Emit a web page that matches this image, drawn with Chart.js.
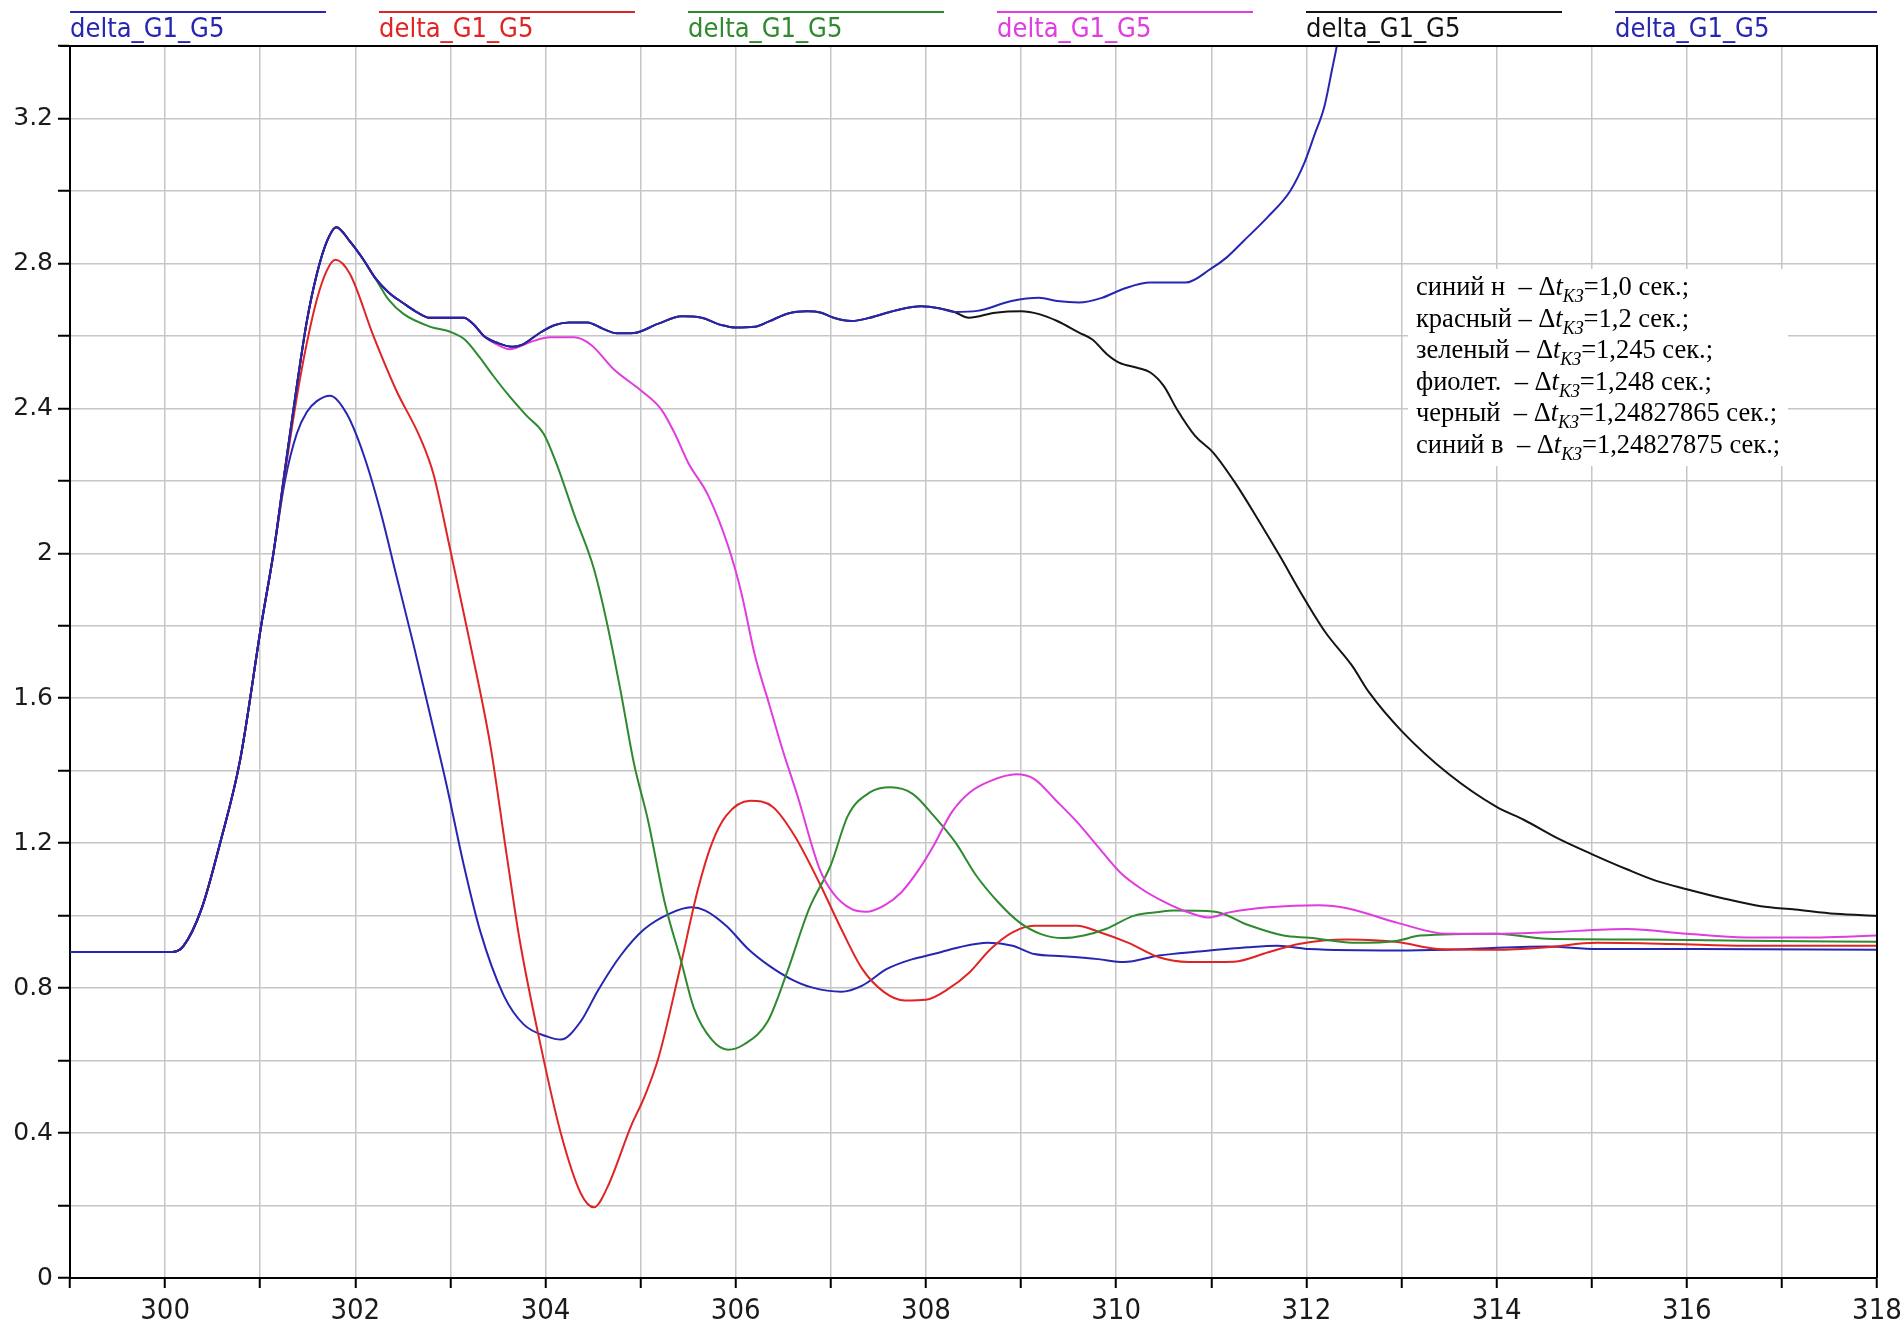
<!DOCTYPE html>
<html>
<head>
<meta charset="utf-8">
<script src="https://cdn.jsdelivr.net/npm/chart.js@4.4.1/dist/chart.umd.min.js"></script>
<style>
  html, body { margin: 0; padding: 0; background: #ffffff; }
  canvas { display: block; }
</style>
</head>
<body>
<canvas id="chart" width="1903" height="1329"></canvas>
<script>
// Rotor angle difference delta_G1_G5 after a short circuit, for six fault-clearing times.

const seriesLabels = ['delta_G1_G5', 'delta_G1_G5', 'delta_G1_G5', 'delta_G1_G5', 'delta_G1_G5', 'delta_G1_G5'];
const seriesColors = ['#2626b2', '#e02424', '#2e8a2e', '#e03ce0', '#141414', '#2626b2'];

// Common part of every trace: steady state and the rise during the fault.
const riseT = [299.0, 300.0, 300.08, 300.19, 300.385, 300.578, 300.789, 301.016, 301.139];
const riseV = [0.90, 0.90, 0.90, 0.915, 1.02, 1.20, 1.43, 1.81, 2.00];

// First swing shared by the green, violet, black and upper blue traces.
const crestT = [301.26, 301.384, 301.49, 301.595, 301.70, 301.80, 301.945, 302.086, 302.208];
const crestV = [2.23, 2.46, 2.64, 2.77, 2.86, 2.90, 2.86, 2.81, 2.76];

// Plateau shared by the black and upper blue traces.
const plateauT = [302.35, 302.506, 302.65, 302.787, 302.962, 303.14, 303.25, 303.35, 303.5, 303.65, 303.75, 303.95,
  304.1, 304.25, 304.44, 304.6, 304.75, 304.93, 305.18, 305.43, 305.64, 305.85, 306.0, 306.2, 306.35, 306.55,
  306.75, 306.9, 307.03, 307.22, 307.41, 307.69, 307.95, 308.16, 308.3];
const plateauV = [2.72, 2.69, 2.665, 2.65, 2.65, 2.65, 2.63, 2.60, 2.58, 2.57, 2.575, 2.61,
  2.63, 2.637, 2.637, 2.62, 2.607, 2.608, 2.633, 2.654, 2.65, 2.63, 2.623, 2.625, 2.64, 2.662,
  2.668, 2.664, 2.65, 2.641, 2.65, 2.671, 2.682, 2.675, 2.666];

// Lower blue: dt = 1,0 s
const blueLowT = [301.26, 301.384, 301.49, 301.595, 301.735, 301.91, 302.09, 302.26, 302.43, 302.61, 302.79, 302.96,
  303.14, 303.31, 303.56, 303.77, 304.02, 304.16, 304.37, 304.55, 304.79, 305.04, 305.3, 305.53, 305.68, 305.9,
  306.13, 306.35, 306.58, 306.8, 307.11, 307.33, 307.59, 307.86, 308.08, 308.35, 308.65, 308.91, 309.14, 309.44,
  309.81, 310.08, 310.45, 310.86, 311.39, 311.7, 312.03, 312.96, 313.48, 314.53, 315.05, 316.1, 318.0];
const blueLowV = [2.20, 2.33, 2.39, 2.42, 2.435, 2.385, 2.27, 2.12, 1.94, 1.75, 1.55, 1.36,
  1.14, 0.96, 0.78, 0.70, 0.666, 0.658, 0.708, 0.793, 0.89, 0.963, 1.005, 1.023, 1.014, 0.972,
  0.908, 0.862, 0.825, 0.802, 0.79, 0.807, 0.853, 0.88, 0.894, 0.913, 0.925, 0.917, 0.894, 0.888,
  0.88, 0.872, 0.89, 0.901, 0.913, 0.917, 0.908, 0.904, 0.906, 0.915, 0.908, 0.908, 0.906];

// Red: dt = 1,2 s
const redT = [301.26, 301.384, 301.49, 301.595, 301.70, 301.79, 301.945, 302.19, 302.43, 302.68, 302.82, 302.99,
  303.2, 303.42, 303.59, 303.73, 303.95, 304.16, 304.37, 304.51, 304.65, 304.9, 305.04, 305.19, 305.41, 305.6,
  305.75, 305.9, 306.15, 306.39, 306.62, 306.88, 307.11, 307.33, 307.56, 307.78, 308.0, 308.23, 308.46, 308.68,
  308.91, 309.14, 309.59, 309.82, 310.13, 310.45, 310.76, 311.24, 311.6, 311.92, 312.44, 312.96, 313.38, 314.0,
  314.53, 315.05, 315.84, 316.62, 318.0];
const redV = [2.22, 2.43, 2.58, 2.70, 2.78, 2.81, 2.77, 2.60, 2.45, 2.32, 2.22, 2.02,
  1.76, 1.47, 1.17, 0.93, 0.64, 0.40, 0.234, 0.195, 0.25, 0.42, 0.50, 0.61, 0.85, 1.07,
  1.20, 1.276, 1.317, 1.30, 1.22, 1.09, 0.963, 0.853, 0.789, 0.766, 0.768, 0.797, 0.844, 0.908,
  0.954, 0.972, 0.972, 0.955, 0.925, 0.885, 0.872, 0.873, 0.899, 0.922, 0.934, 0.927, 0.908, 0.906,
  0.913, 0.925, 0.922, 0.917, 0.917];

// Green: dt = 1,245 s
const greenT = [302.35, 302.51, 302.79, 302.99, 303.15, 303.31, 303.45, 303.6, 303.8, 303.98, 304.12, 304.3,
  304.51, 304.65, 304.79, 304.93, 305.08, 305.25, 305.43, 305.56, 305.75, 305.92, 306.09, 306.34, 306.54, 306.77,
  307.0, 307.18, 307.41, 307.63, 307.86, 308.08, 308.31, 308.53, 308.76, 308.98, 309.21, 309.44, 309.66, 309.89,
  310.19, 310.45, 310.6, 311.04, 311.39, 311.76, 312.03, 312.54, 312.96, 313.2, 314.0, 314.53, 315.58, 316.62, 318.0];
const greenV = [2.70, 2.66, 2.625, 2.612, 2.59, 2.54, 2.49, 2.44, 2.38, 2.33, 2.244, 2.108,
  1.956, 1.803, 1.619, 1.42, 1.26, 1.04, 0.87, 0.745, 0.657, 0.63, 0.645, 0.71, 0.844, 1.018,
  1.14, 1.276, 1.34, 1.354, 1.336, 1.276, 1.202, 1.11, 1.037, 0.982, 0.949, 0.938, 0.945, 0.963,
  1.0, 1.01, 1.014, 1.011, 0.974, 0.945, 0.939, 0.925, 0.931, 0.945, 0.95, 0.936, 0.934, 0.931, 0.928];

// Violet: dt = 1,248 s
const violetT = [302.35, 302.506, 302.65, 302.787, 302.962, 303.14, 303.25, 303.35, 303.5, 303.62, 303.84,
  304.05, 304.3, 304.48, 304.72, 305.01, 305.22, 305.36, 305.5, 305.71, 305.92, 306.06, 306.2, 306.35, 306.49,
  306.65, 306.88, 307.03, 307.22, 307.37, 307.56, 307.74, 307.93, 308.08, 308.27, 308.46, 308.68, 308.95, 309.14,
  309.36, 309.59, 309.81, 310.04, 310.26, 310.49, 310.7, 310.97, 311.19, 311.6, 312.13, 312.44, 312.96, 313.48,
  314.01, 314.53, 315.37, 316.0, 316.62, 317.4, 318.0];
const violetV = [2.72, 2.69, 2.665, 2.65, 2.65, 2.65, 2.63, 2.60, 2.575, 2.563, 2.583,
  2.596, 2.596, 2.575, 2.507, 2.448, 2.396, 2.33, 2.25, 2.16, 2.02, 1.89, 1.72, 1.585, 1.46,
  1.33, 1.13, 1.06, 1.018, 1.011, 1.028, 1.064, 1.129, 1.193, 1.285, 1.34, 1.372, 1.39, 1.377,
  1.32, 1.258, 1.19, 1.12, 1.075, 1.04, 1.015, 0.995, 1.009, 1.023, 1.029, 1.02, 0.98, 0.95,
  0.95, 0.954, 0.963, 0.95, 0.94, 0.94, 0.945];

// Black: dt = 1,24827865 s (tail after leaving the plateau)
const blackT = [308.45, 308.73, 309.0, 309.19, 309.38, 309.61, 309.75, 309.9, 310.03, 310.22, 310.36, 310.5,
  310.64, 310.83, 311.02, 311.25, 311.49, 311.72, 311.96, 312.2, 312.48, 312.66, 313.0, 313.5, 314.0, 314.29,
  314.66, 315.0, 315.37, 315.68, 316.0, 316.41, 316.78, 317.14, 317.56, 318.0];
const blackV = [2.65, 2.664, 2.668, 2.66, 2.641, 2.609, 2.59, 2.55, 2.526, 2.512, 2.499, 2.462,
  2.397, 2.324, 2.278, 2.195, 2.094, 1.993, 1.883, 1.782, 1.69, 1.616, 1.51, 1.39, 1.30, 1.264,
  1.211, 1.17, 1.128, 1.096, 1.073, 1.046, 1.026, 1.017, 1.005, 1.0];

// Upper blue: dt = 1,24827875 s (runaway after leaving the plateau)
const blueHighT = [308.54, 308.9, 309.19, 309.38, 309.61, 309.85, 310.08, 310.36, 310.73, 310.99, 311.16, 311.34,
  311.59, 311.83, 311.98, 312.08, 312.19, 312.27, 312.32, 312.4];
const blueHighV = [2.669, 2.696, 2.705, 2.696, 2.692, 2.705, 2.73, 2.747, 2.747, 2.784, 2.816, 2.862,
  2.927, 3.0, 3.078, 3.151, 3.234, 3.335, 3.40, 3.52];

// Axis tick labels
const xTickLabels = ['300', '302', '304', '306', '308', '310', '312', '314', '316', '318'];
const yTickLabels = ['0', '0.4', '0.8', '1.2', '1.6', '2', '2.4', '2.8', '3.2'];

// Text of the note box
const noteNames = ['синий н  ', 'красный ', 'зеленый ', 'фиолет.  ', 'черный  ', 'синий в  '];
const noteValues = ['1,0', '1,2', '1,245', '1,248', '1,24827865', '1,24827875'];

function toPoints(ts, vs) {
  return ts.map((t, i) => ({ x: t, y: vs[i] }));
}
function joined(parts) {
  const t = [], v = [];
  parts.forEach(([a, b]) => { t.push(...a); v.push(...b); });
  return toPoints(t, v);
}

const seriesData = [
  joined([[riseT, riseV], [blueLowT, blueLowV]]),
  joined([[riseT, riseV], [redT, redV]]),
  joined([[riseT, riseV], [crestT, crestV], [greenT, greenV]]),
  joined([[riseT, riseV], [crestT, crestV], [violetT, violetV]]),
  joined([[riseT, riseV], [crestT, crestV], [plateauT, plateauV], [blackT, blackV]]),
  joined([[riseT, riseV], [crestT, crestV], [plateauT, plateauV], [blueHighT, blueHighV]])
];

const datasets = seriesData.map((pts, i) => ({
  label: seriesLabels[i],
  data: pts,
  borderColor: seriesColors[i],
  backgroundColor: seriesColors[i],
  borderWidth: 2,
  pointRadius: 0,
  fill: false,
  cubicInterpolationMode: 'monotone',
  order: seriesData.length - 1 - i,
  clip: 0
}));

const TICK_FONT_X = '"Liberation Sans Narrow", "DejaVu Sans Condensed", "Liberation Sans", Arial, sans-serif';
const TICK_FONT_Y = '"DejaVu Sans", "Liberation Sans", sans-serif';
const NOTE_FONT = '"Liberation Serif", "Times New Roman", serif';

// Legend across the top: a coloured line with the series name beneath it.
const topLegend = {
  id: 'topLegend',
  afterDraw(chart) {
    const { ctx, chartArea } = chart;
    const ds = chart.data.datasets;
    const lineLen = 256;
    const step = 309;
    ctx.save();
    ds.forEach((d, i) => {
      const x = chartArea.left + i * step;
      const len = Math.min(lineLen, chartArea.right - x);
      ctx.strokeStyle = d.borderColor;
      ctx.lineWidth = 2;
      ctx.beginPath();
      ctx.moveTo(x, 12);
      ctx.lineTo(x + (i === ds.length - 1 ? chartArea.right - x : len), 12);
      ctx.stroke();
      ctx.fillStyle = d.borderColor;
      ctx.font = '27px ' + TICK_FONT_X;
      ctx.textAlign = 'left';
      ctx.textBaseline = 'alphabetic';
      ctx.fillText(d.label, x, 37);
    });
    ctx.restore();
  }
};

// Top and right edges of the plot frame.
const frame = {
  id: 'frame',
  afterDatasetsDraw(chart) {
    const { ctx, chartArea } = chart;
    ctx.save();
    ctx.strokeStyle = '#000';
    ctx.lineWidth = 2;
    ctx.beginPath();
    ctx.moveTo(chartArea.left - 10, chartArea.top);
    ctx.lineTo(chartArea.right, chartArea.top);
    ctx.lineTo(chartArea.right, chartArea.bottom);
    ctx.stroke();
    ctx.restore();
  }
};

// Note box listing the fault-clearing time of each trace.
const noteBox = {
  id: 'noteBox',
  afterDraw(chart) {
    const { ctx, chartArea } = chart;
    const left = chartArea.right - 461;
    const top = chartArea.top + 225;
    const lineH = 31.5;
    ctx.save();
    ctx.fillStyle = '#fff';
    ctx.fillRect(left - 8, top - 2, 380, lineH * noteNames.length + 8);
    ctx.fillStyle = '#000';
    ctx.textBaseline = 'alphabetic';
    ctx.textAlign = 'left';
    noteNames.forEach((name, i) => {
      const y = top + 24 + i * lineH;
      let x = left;
      ctx.font = '26.5px ' + NOTE_FONT;
      const head = name + '\u2013 \u0394';
      ctx.fillText(head, x, y);
      x += ctx.measureText(head).width;
      ctx.font = 'italic 26.5px ' + NOTE_FONT;
      ctx.fillText('t', x, y);
      x += ctx.measureText('t').width;
      ctx.font = 'italic 18px ' + NOTE_FONT;
      ctx.fillText('КЗ', x, y + 7);
      x += ctx.measureText('КЗ').width;
      ctx.font = '26.5px ' + NOTE_FONT;
      ctx.fillText('=' + noteValues[i] + ' сек.;', x, y);
    });
    ctx.restore();
  }
};

new Chart(document.getElementById('chart'), {
  type: 'line',
  data: { datasets },
  options: {
    responsive: false,
    animation: false,
    events: [],
    layout: { padding: { left: 0, right: 26, top: 46, bottom: 0 } },
    plugins: { legend: { display: false }, tooltip: { enabled: false } },
    scales: {
      x: {
        type: 'linear',
        min: 299,
        max: 318,
        afterFit(scale) {
          scale.height = 51;
          scale.paddingLeft = 0;
          scale.paddingRight = 0;
        },
        border: { display: true, color: '#000', width: 2 },
        grid: { color: '#c6c6c6', lineWidth: 1.5, drawTicks: true, tickLength: 10, tickColor: '#000', tickWidth: 2 },
        ticks: {
          stepSize: 1,
          autoSkip: false,
          maxRotation: 0,
          padding: 6,
          color: '#1a1a1a',
          font: { family: TICK_FONT_X, size: 29 },
          callback(value) {
            const v = Math.round(value);
            return xTickLabels.includes(String(v)) ? String(v) : '';
          }
        }
      },
      y: {
        min: 0,
        max: 3.4,
        afterFit(scale) {
          scale.width = 70;
          scale.paddingTop = 0;
          scale.paddingBottom = 0;
        },
        border: { display: true, color: '#000', width: 2 },
        grid: { color: '#c6c6c6', lineWidth: 1.5, drawTicks: true, tickLength: 12, tickColor: '#000', tickWidth: 2 },
        ticks: {
          stepSize: 0.2,
          autoSkip: false,
          padding: 5,
          color: '#1a1a1a',
          font: { family: TICK_FONT_Y, size: 25 },
          callback(value) {
            const s = String(Math.round(value * 10) / 10);
            return yTickLabels.includes(s) ? s : '';
          }
        }
      }
    }
  },
  plugins: [topLegend, frame, noteBox]
});
</script>
</body>
</html>
